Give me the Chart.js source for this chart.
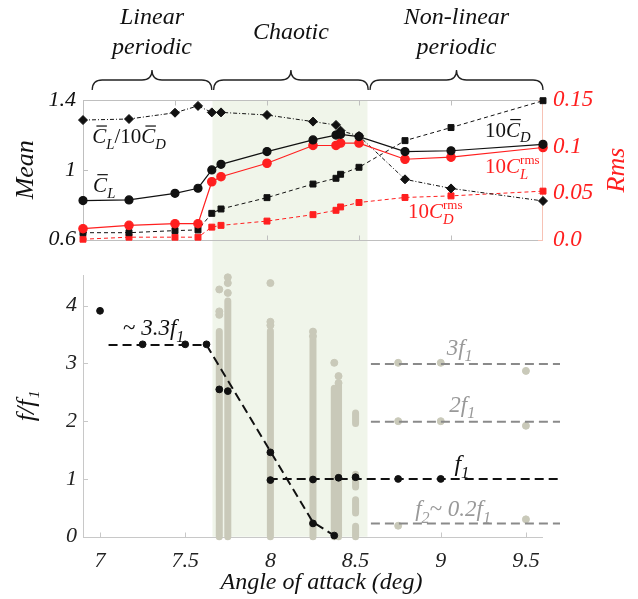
<!DOCTYPE html>
<html lang="en">
<head>
  <meta charset="UTF-8">
  <title>Aerodynamic regimes vs angle of attack</title>
  <script src="https://cdn.jsdelivr.net/npm/chart.js"></script>
  <style>
    body { margin: 0; background: #fff; }
    #wrap { position: relative; width: 638px; height: 599px; }
    #wrap canvas { position: absolute; left: 0; top: 0; }
    #bottomChart { z-index: 1; }
    #topChart { z-index: 2; }
  </style>
</head>
<body>
  <div id="wrap">
    <canvas id="bottomChart" width="638" height="599"></canvas>
    <canvas id="topChart" width="638" height="599"></canvas>
  </div>
  <script>
    // ---- top panel: force coefficients ----
    const topAngle  = [7, 7.25, 7.5, 7.625, 7.7, 7.75, 8, 8.25, 8.375, 8.4, 8.5, 8.75, 9, 9.5];
    const ratioMean = [1.285, 1.291, 1.327, 1.366, 1.329, 1.329, 1.314, 1.276, 1.257, 1.224, 1.194, 0.945, 0.893, 0.821];
    const liftMean  = [0.823, 0.827, 0.865, 0.894, 0.999, 1.031, 1.104, 1.171, 1.199, 1.203, 1.19, 1.104, 1.109, 1.146];
    const dragMean  = [0.639, 0.639, 0.651, 0.655, 0.75, 0.775, 0.84, 0.918, 0.951, 0.974, 1.014, 1.167, 1.242, 1.396];
    const liftRms   = [0.0116, 0.0152, 0.017, 0.017, 0.0621, 0.0675, 0.082, 0.1011, 0.1011, 0.1037, 0.1037, 0.0863, 0.0885, 0.0989];
    const dragRms   = [0.0003, 0.0025, 0.0025, 0.0025, 0.0133, 0.0152, 0.0198, 0.0267, 0.0314, 0.035, 0.0398, 0.0452, 0.0469, 0.052];
    const meanTicks = [0.6, 1, 1.4];
    const rmsTicks  = [0, 0.05, 0.1, 0.15];
    const topXTicks = [7.5, 8, 8.5, 9];

    // regimes (top panel angle units)
    const regimeNames = [['Linear', 'periodic'], ['Chaotic'], ['Non-linear', 'periodic']];
    const regimeFrom  = [7.05, 7.71, 8.56];
    const regimeTo    = [7.70, 8.55, 9.5];

    // ---- bottom panel: frequency content ----
    const angleTicks = [7, 7.5, 8, 8.5, 9, 9.5];
    const freqTicks  = [0, 1, 2, 3, 4];
    const chaosRange = [7.66, 8.57];

    const peakAngle = [7, 7.25, 7.5, 7.625, 7.7, 7.75, 8, 8, 8.25, 8.25, 8.375, 8.4, 8.5, 8.75, 9];
    const peakRatio = [3.91, 3.33, 3.33, 3.33, 2.55, 2.52, 1.46, 0.98, 0.99, 0.23, 0.02, 1.02, 1.03, 1.0, 1.0];

    const spreadAngle = [7.7, 7.7, 7.7, 7.75, 7.75, 7.75, 8, 8, 8, 8.25, 8.25, 8.375, 8.4, 8.4, 8.75, 8.75, 8.75, 9, 9, 9.5, 9.5, 9.5];
    const spreadRatio = [4.28, 3.9, 3.84, 4.49, 4.39, 4.22, 4.39, 3.72, 3.66, 3.55, 3.47, 3.01, 2.78, 2.66, 3.01, 2.0, 0.19, 3.01, 2.0, 2.87, 1.92, 0.3];

    const bandAngle = [7.7, 7.75, 8, 8.25, 8.375, 8.4, 8.5, 8.5, 8.5, 8.5];
    const bandLow   = [0, 0, 0, 0, 0, 0, 1.96, 0.86, 0.41, 0];
    const bandHigh  = [3.55, 4.08, 3.56, 3.41, 2.57, 2.62, 2.14, 1.08, 0.64, 0.18];

    const plateauAngle = [7.05, 7.625, 8.25, 8.375];
    const plateauRatio = [3.32, 3.32, 0.25, 0.02];
    const f1Angle = [7.99, 9.7];
    const f1Ratio = [1, 1];
    const harmAngle = [8.59, 9.7];
    const harmLevels = [2.99, 1.99, 0.23];

    const serif = '"Liberation Serif", "Times New Roman", serif';
    const RED = '#ff1f1f';
    const GREY = '#c9c9b9';
    const TOP_Y = 100;   // top panel upper edge (px)

    function pts(xs, ys) { return xs.map((x, i) => ({ x: x, y: ys[i] })); }

    // text with sub/superscripts and overbars
    function rich(ctx, x, y, size, color, parts) {
      let cx = x;
      ctx.save();
      ctx.fillStyle = color;
      ctx.textAlign = 'left';
      ctx.textBaseline = 'alphabetic';
      parts.forEach(p => {
        const txt = p[0], kind = p[1];
        let fs = size, dy = 0, st = 'italic ';
        if (kind === 'r') st = '';
        if (kind === 'sub') { fs = size * 0.7; dy = size * 0.28; }
        if (kind === 'sup') { fs = size * 0.62; dy = -size * 0.45; st = ''; }
        ctx.font = st + fs + 'px ' + serif;
        ctx.fillText(txt, cx, y + dy);
        const w = ctx.measureText(txt).width;
        if (kind === 'bar') ctx.fillRect(cx + size * 0.2, y - size * 0.84, w * 0.75, 1.2);
        if (p[2] !== 'stay') cx += w;
      });
      ctx.restore();
    }

    function brace(ctx, x1, x2, yEnd, h) {
      const xm = (x1 + x2) / 2, q = h / 2;
      ctx.beginPath();
      ctx.moveTo(x1, yEnd);
      ctx.quadraticCurveTo(x1, yEnd - q, x1 + q, yEnd - q);
      ctx.lineTo(xm - q, yEnd - q);
      ctx.quadraticCurveTo(xm, yEnd - q, xm, yEnd - h);
      ctx.quadraticCurveTo(xm, yEnd - q, xm + q, yEnd - q);
      ctx.lineTo(x2 - q, yEnd - q);
      ctx.quadraticCurveTo(x2, yEnd - q, x2, yEnd);
      ctx.stroke();
    }

    const topNotes = [
      { x: 7.05, y: 1.153, c: '#111', parts: [['C', 'bar'], ['L', 'sub'], ['/10', 'r'], ['C', 'bar'], ['D', 'sub']] },
      { x: 7.055, y: 0.874, c: '#111', parts: [['C', 'bar'], ['L', 'sub']] },
      { x: 9.185, y: 1.19, c: '#111', parts: [['10', 'r'], ['C', 'bar'], ['D', 'sub']] },
      { x: 9.185, y: 0.98, c: RED, parts: [['10', 'r'], ['C', 'i'], ['L', 'sub', 'stay'], ['rms', 'sup']] },
      { x: 8.766, y: 0.722, c: RED, parts: [['10', 'r'], ['C', 'i'], ['D', 'sub', 'stay'], ['rms', 'sup']] }
    ];

    const bottomNotes = [
      { x: 7.135, y: 3.49, c: '#111', s: 23, parts: [['~ ', 'r'], ['3.3f', 'i'], ['1', 'sub']] },
      { x: 9.035, y: 3.15, c: '#999', s: 23, parts: [['3f', 'i'], ['1', 'sub']] },
      { x: 9.05, y: 2.16, c: '#999', s: 23, parts: [['2f', 'i'], ['1', 'sub']] },
      { x: 9.08, y: 1.13, c: '#111', s: 24, parts: [['f', 'i'], ['1', 'sub']] },
      { x: 8.85, y: 0.35, c: '#999', s: 23, parts: [['f', 'i'], ['2', 'sub'], ['~ ', 'r'], ['0.2f', 'i'], ['1', 'sub']] }
    ];

    const topDecor = {
      id: 'topDecor',
      beforeDatasetsDraw(chart) {
        const { ctx, chartArea: a, scales } = chart;
        const top = Math.round(a.top) + 0.5, bot = Math.round(a.bottom) + 0.5;
        ctx.save();
        ctx.lineWidth = 1;
        ctx.strokeStyle = '#bfbfbf';
        ctx.beginPath();
        ctx.moveTo(a.right, top); ctx.lineTo(a.left + 0.5, top);
        ctx.lineTo(a.left + 0.5, bot); ctx.lineTo(a.right, bot);
        topXTicks.forEach(v => {
          const px = Math.round(scales.x.getPixelForValue(v)) + 0.5;
          ctx.moveTo(px, top); ctx.lineTo(px, top + 5);
          ctx.moveTo(px, bot); ctx.lineTo(px, bot - 5);
        });
        meanTicks.forEach(v => {
          const py = Math.round(scales.y.getPixelForValue(v)) + 0.5;
          ctx.moveTo(a.left, py); ctx.lineTo(a.left + 5, py);
        });
        ctx.stroke();
        ctx.strokeStyle = '#f7c2b5';
        ctx.beginPath();
        ctx.moveTo(a.right - 0.5, top); ctx.lineTo(a.right - 0.5, bot);
        rmsTicks.forEach(v => {
          const py = Math.round(scales.y2.getPixelForValue(v)) + 0.5;
          ctx.moveTo(a.right, py); ctx.lineTo(a.right - 5, py);
        });
        ctx.stroke();
        ctx.restore();
      },
      afterDraw(chart) {
        const { ctx, scales } = chart;
        ctx.save();
        ctx.strokeStyle = '#222';
        ctx.lineWidth = 1.3;
        ctx.fillStyle = '#111';
        ctx.textAlign = 'center';
        ctx.textBaseline = 'middle';
        ctx.font = 'italic 24px ' + serif;
        regimeNames.forEach((lines, i) => {
          const x1 = scales.x.getPixelForValue(regimeFrom[i]);
          const x2 = scales.x.getPixelForValue(regimeTo[i]);
          brace(ctx, x1, x2, 90, 20);
          const xm = (x1 + x2) / 2;
          lines.forEach((t, k) => ctx.fillText(t, xm, 33 + (k - (lines.length - 1) / 2) * 30));
        });
        ctx.translate(617, 170);
        ctx.rotate(-Math.PI / 2);
        ctx.fillStyle = RED;
        ctx.font = 'italic 26px ' + serif;
        ctx.fillText('Rms', 0, 0);
        ctx.restore();
        topNotes.forEach(n => rich(ctx, scales.x.getPixelForValue(n.x), scales.y.getPixelForValue(n.y), 21, n.c, n.parts));
      }
    };

    const bottomDecor = {
      id: 'bottomDecor',
      beforeDraw(chart) {
        const { ctx, chartArea: a, scales } = chart;
        const x1 = scales.x.getPixelForValue(chaosRange[0]);
        const x2 = scales.x.getPixelForValue(chaosRange[1]);
        ctx.save();
        ctx.fillStyle = '#f0f5ea';
        ctx.fillRect(x1, TOP_Y, x2 - x1, a.bottom - TOP_Y);
        ctx.restore();
      },
      beforeDatasetsDraw(chart) {
        const { ctx, chartArea: a, scales } = chart;
        const y0 = Math.round(scales.y.getPixelForValue(0)) + 0.5;
        ctx.save();
        ctx.strokeStyle = '#c8c8c8';
        ctx.lineWidth = 1;
        ctx.beginPath();
        ctx.moveTo(a.left, y0);
        ctx.lineTo(scales.x.getPixelForValue(9.6), y0);
        angleTicks.forEach(v => {
          const px = Math.round(scales.x.getPixelForValue(v)) + 0.5;
          ctx.moveTo(px, y0); ctx.lineTo(px, y0 - 5);
        });
        freqTicks.forEach(v => {
          const py = Math.round(scales.y.getPixelForValue(v)) + 0.5;
          ctx.moveTo(a.left, py); ctx.lineTo(a.left + 5, py);
        });
        ctx.stroke();
        ctx.restore();
      },
      afterDraw(chart) {
        const { ctx, scales } = chart;
        bottomNotes.forEach(n => rich(ctx, scales.x.getPixelForValue(n.x), scales.y.getPixelForValue(n.y), n.s, n.c, n.parts));
      }
    };

    const tickFont = size => ({ family: serif, size: size, style: 'italic' });

    // ---------- top chart ----------
    new Chart(document.getElementById('topChart'), {
      type: 'line',
      data: {
        datasets: [
          { data: pts(topAngle, liftMean), yAxisID: 'y', borderColor: '#111', borderWidth: 1.2,
            pointStyle: 'circle', pointRadius: 4, pointBackgroundColor: '#111', pointBorderColor: '#111', clip: false },
          { data: pts(topAngle, liftRms), yAxisID: 'y2', borderColor: RED, borderWidth: 1.2,
            pointStyle: 'circle', pointRadius: 4.2, pointBackgroundColor: RED, pointBorderColor: RED, clip: false },
          { data: pts(topAngle, ratioMean), yAxisID: 'y', borderColor: '#111', borderWidth: 1, borderDash: [4, 2, 1, 2],
            pointStyle: 'rectRot', pointRadius: 4.5, pointBackgroundColor: '#111', pointBorderColor: '#111', clip: false },
          { data: pts(topAngle, dragMean), yAxisID: 'y', borderColor: '#111', borderWidth: 1, borderDash: [4, 3],
            pointStyle: 'rect', pointRadius: 4.2, pointBackgroundColor: '#111', pointBorderColor: '#111', clip: false },
          { data: pts(topAngle, dragRms), yAxisID: 'y2', borderColor: RED, borderWidth: 1, borderDash: [4, 3],
            pointStyle: 'rect', pointRadius: 4.2, pointBackgroundColor: RED, pointBorderColor: RED, clip: false }
        ]
      },
      options: {
        responsive: false,
        animation: false,
        events: [],
        layout: { padding: { top: TOP_Y, bottom: 359.5, left: 0, right: 0 } },
        plugins: { legend: { display: false }, tooltip: { enabled: false } },
        scales: {
          x: { type: 'linear', min: 7, max: 9.5, display: false },
          y: {
            position: 'left', min: 0.6, max: 1.4,
            afterFit: s => { s.width = 83; },
            afterBuildTicks: s => { s.ticks = meanTicks.map(v => ({ value: v })); },
            grid: { display: false, drawTicks: false },
            border: { display: false },
            ticks: { padding: 7, color: '#111', font: tickFont(22), callback: v => v === 1 ? '1' : v.toFixed(1) },
            title: { display: true, text: 'Mean', color: '#111', font: tickFont(26), padding: { top: 11 } }
          },
          y2: {
            position: 'right', min: 0, max: 0.15,
            afterFit: s => { s.width = 95; },
            afterBuildTicks: s => { s.ticks = rmsTicks.map(v => ({ value: v })); },
            grid: { display: false, drawTicks: false },
            border: { display: false },
            ticks: { padding: 10, color: RED, font: tickFont(23), callback: v => v === 0 ? '0.0' : String(v) }
          }
        }
      },
      plugins: [topDecor]
    });

    // ---------- bottom chart ----------
    const bandData = [];
    bandAngle.forEach((a, i) => {
      bandData.push({ x: a, y: bandLow[i] }, { x: a, y: bandHigh[i] }, { x: a, y: null });
    });

    const harmSets = harmLevels.map(h => ({
      data: pts(harmAngle, [h, h]), borderColor: '#8a8a8a', borderWidth: 2, borderDash: [9, 5],
      pointRadius: 0, order: 3, clip: false
    }));

    new Chart(document.getElementById('bottomChart'), {
      type: 'line',
      data: {
        datasets: [
          { data: pts(peakAngle, peakRatio), showLine: false, pointRadius: 3.4,
            pointBackgroundColor: '#111', pointBorderColor: '#111', order: 1, clip: false },
          { data: pts(plateauAngle, plateauRatio), borderColor: '#111', borderWidth: 2, borderDash: [9, 5],
            pointRadius: 0, order: 2, clip: false },
          { data: pts(f1Angle, f1Ratio), borderColor: '#111', borderWidth: 2, borderDash: [9, 5],
            pointRadius: 0, order: 2, clip: false },
          ...harmSets,
          { data: pts(spreadAngle, spreadRatio), showLine: false, pointRadius: 3.5,
            pointBackgroundColor: GREY, pointBorderColor: GREY, order: 4, clip: false },
          { data: bandData, borderColor: GREY, borderWidth: 7, borderCapStyle: 'round', spanGaps: false,
            pointRadius: 0, order: 5, clip: false }
        ]
      },
      options: {
        responsive: false,
        animation: false,
        events: [],
        layout: { padding: { top: 275, bottom: 0, left: 0, right: 78 } },
        plugins: { legend: { display: false }, tooltip: { enabled: false } },
        scales: {
          x: {
            type: 'linear', min: 6.9, max: 9.7,
            afterFit: s => { s.height = 62.3; },
            afterBuildTicks: s => { s.ticks = angleTicks.map(v => ({ value: v })); },
            grid: { display: false, drawTicks: false },
            border: { display: false },
            ticks: { padding: 11, color: '#222', font: tickFont(22), maxRotation: 0, callback: v => String(v) },
            title: { display: true, text: 'Angle of attack (deg)', color: '#111', font: tickFont(24), padding: { bottom: 2 } }
          },
          y: {
            min: 0, max: 4.53,
            afterFit: s => { s.width = 83; },
            afterBuildTicks: s => { s.ticks = freqTicks.map(v => ({ value: v })); },
            grid: { display: false, drawTicks: false },
            border: { display: true, color: '#c8c8c8', width: 1 },
            ticks: { padding: 6, color: '#222', font: tickFont(22), callback: v => String(v) },
            title: { display: true, text: 'f/f\u2081', color: '#111', font: tickFont(26), padding: { top: 12 } }
          }
        }
      },
      plugins: [bottomDecor]
    });
  </script>
</body>
</html>
